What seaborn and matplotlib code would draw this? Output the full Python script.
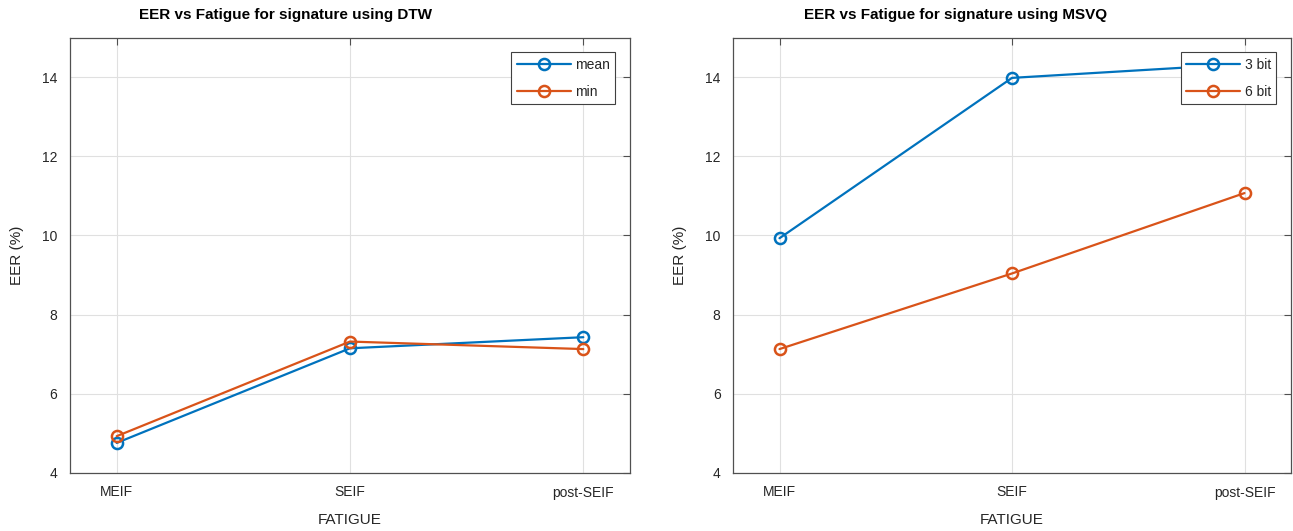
import matplotlib
matplotlib.use("Agg")
import matplotlib.pyplot as plt
import seaborn as sns
import pandas as pd

categories = ["MEIF", "SEIF", "post-SEIF"]
dtw_mean = [4.76, 7.15, 7.43]
dtw_min = [4.93, 7.32, 7.13]
msvq_3bit = [9.93, 13.98, 14.33]
msvq_6bit = [7.13, 9.04, 11.07]
yticks = [4, 6, 8, 10, 12, 14]

blue = "#0072BD"
orange = "#D95319"

sns.set_style("white")
plt.rcParams["font.family"] = ["Liberation Sans", "DejaVu Sans"]
plt.rcParams["text.color"] = "#262626"

fig = plt.figure(figsize=(12.93, 5.31), dpi=100)
ax1 = fig.add_axes([70/1293, 1-473/531, 560/1293, 435.5/531])
ax2 = fig.add_axes([733/1293, 1-473/531, 558/1293, 435.5/531])

panels = [
    (ax1, "EER vs Fatigue for signature using DTW", 0.384,
     [("mean", dtw_mean, blue), ("min", dtw_min, orange)]),
    (ax2, "EER vs Fatigue for signature using MSVQ", 0.398,
     [("3 bit", msvq_3bit, blue), ("6 bit", msvq_6bit, orange)]),
]

for ax, title, tx, series in panels:
    for label, vals, col in series:
        df = pd.DataFrame({"FATIGUE": categories, "EER": vals})
        sns.lineplot(data=df, x="FATIGUE", y="EER", ax=ax, sort=False, color=col,
                     linewidth=1.6, marker="o", markersize=8, markerfacecolor="none",
                     markeredgecolor=col, markeredgewidth=1.8, label=label)
    ax.set_xlim(-0.2, 2.2)
    ax.set_ylim(4, 15)
    ax.set_yticks(yticks)
    ax.set_xticks(range(len(categories)))
    ax.set_xticklabels(categories)
    ax.grid(True, color="#e0e0e0", linewidth=0.8)
    ax.set_axisbelow(True)
    for s in ax.spines.values():
        s.set_visible(True)
        s.set_color("#505050")
        s.set_linewidth(0.9)
    ax.tick_params(direction="in", length=5, width=0.8, color="#505050",
                   top=True, right=True, labelsize=10, labelcolor="#262626", pad=9)
    ax.set_xlabel("FATIGUE", fontsize=11, color="#262626", labelpad=10)
    ax.set_ylabel("EER (%)", fontsize=11, color="#262626", labelpad=13)
    ax.set_title(title, fontsize=11, fontweight="bold", color="black", pad=13, x=tx)
    leg = ax.legend(loc="upper right", fontsize=10, frameon=True, fancybox=False,
                    edgecolor="#404040", framealpha=1, borderaxespad=1.05,
                    handlelength=3.9, handletextpad=0.3, labelspacing=0.95,
                    borderpad=0.4)
    leg.get_frame().set_linewidth(0.8)

fig.savefig("out.png", dpi=100)
